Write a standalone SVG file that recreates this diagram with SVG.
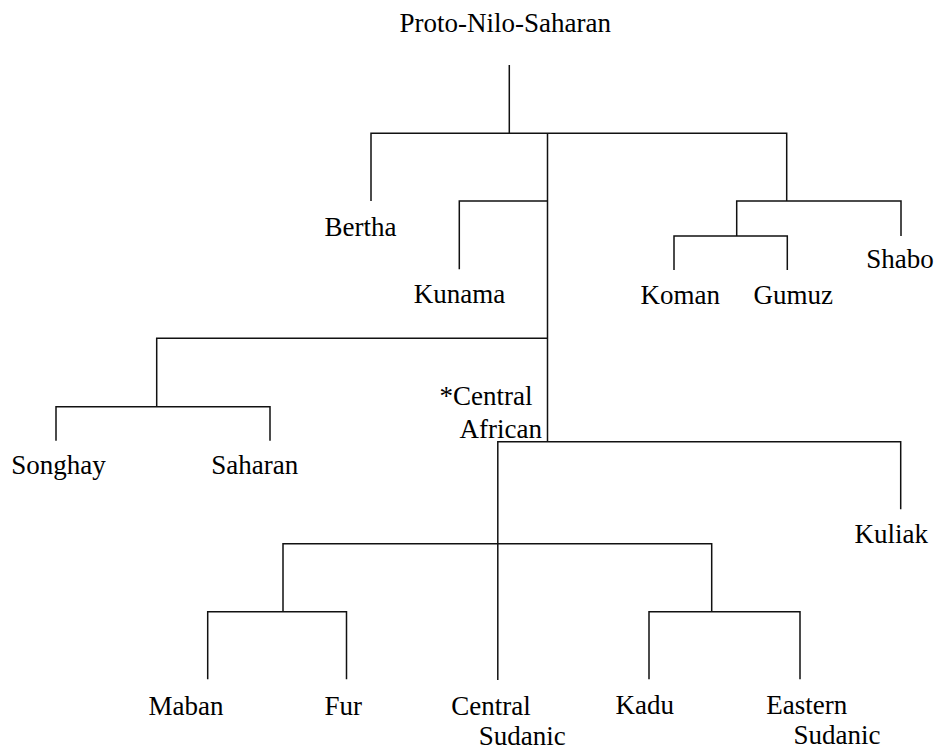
<svg xmlns="http://www.w3.org/2000/svg" width="938" height="749" viewBox="0 0 938 749">
<style>
  text { font-family: 'Liberation Serif', 'Times New Roman', 'DejaVu Serif', serif; font-size: 27px; fill: #000; }
  .edge { fill: none; stroke: #111; stroke-width: 1.5; stroke-linecap: butt; stroke-linejoin: miter; }
</style>
<rect width="938" height="749" fill="#fff"/>
<g id="connectors">
  <path class="edge" d="M509.3,65 V133.3"/>
  <path class="edge" d="M371,201 V133.3 H786.7 V201"/>
  <path class="edge" d="M547.5,133.3 V441.7"/>
  <path class="edge" d="M459.3,269.3 V201 H547.5"/>
  <path class="edge" d="M736.7,236 V201 H901 V236"/>
  <path class="edge" d="M674,270 V236 H787.3 V270"/>
  <path class="edge" d="M547.5,338.3 H156.7 V406.7"/>
  <path class="edge" d="M56,440.7 V406.7 H270 V440.7"/>
  <path class="edge" d="M497.8,680 V441.7 H900.7 V509.3"/>
  <path class="edge" d="M283,611.7 V543.7 H711.7 V611.7"/>
  <path class="edge" d="M207.7,679.3 V611.7 H346.5 V679.3"/>
  <path class="edge" d="M649,679.3 V611.7 H800 V679.3"/>
</g>
<g font-family="Liberation Serif, serif" font-size="27">
<g id="proto"><text x="399.5" y="32">Proto-Nilo-Saharan</text></g>
<g id="bertha"><text x="324.5" y="236">Bertha</text></g>
<g id="kunama"><text x="413.8" y="303.3">Kunama</text></g>
<g id="koman"><text x="640.5" y="304">Koman</text></g>
<g id="gumuz"><text x="753.5" y="304">Gumuz</text></g>
<g id="shabo"><text x="866.2" y="268.3">Shabo</text></g>
<g id="songhay"><text x="11.2" y="474">Songhay</text></g>
<g id="saharan"><text x="211.2" y="474">Saharan</text></g>
<g id="central-african"><text x="439.5" y="405">*Central</text><text x="459.5" y="438.3">African</text></g>
<g id="kuliak"><text x="854.5" y="543.3">Kuliak</text></g>
<g id="maban"><text x="148.5" y="715">Maban</text></g>
<g id="fur"><text x="324.5" y="715">Fur</text></g>
<g id="central-sudanic"><text x="451.2" y="715">Central</text><text x="478.8" y="744.5">Sudanic</text></g>
<g id="kadu"><text x="615.5" y="714.3">Kadu</text></g>
<g id="eastern-sudanic"><text x="766.2" y="714.3">Eastern</text><text x="793.5" y="744.3">Sudanic</text></g>
</g>
</svg>
